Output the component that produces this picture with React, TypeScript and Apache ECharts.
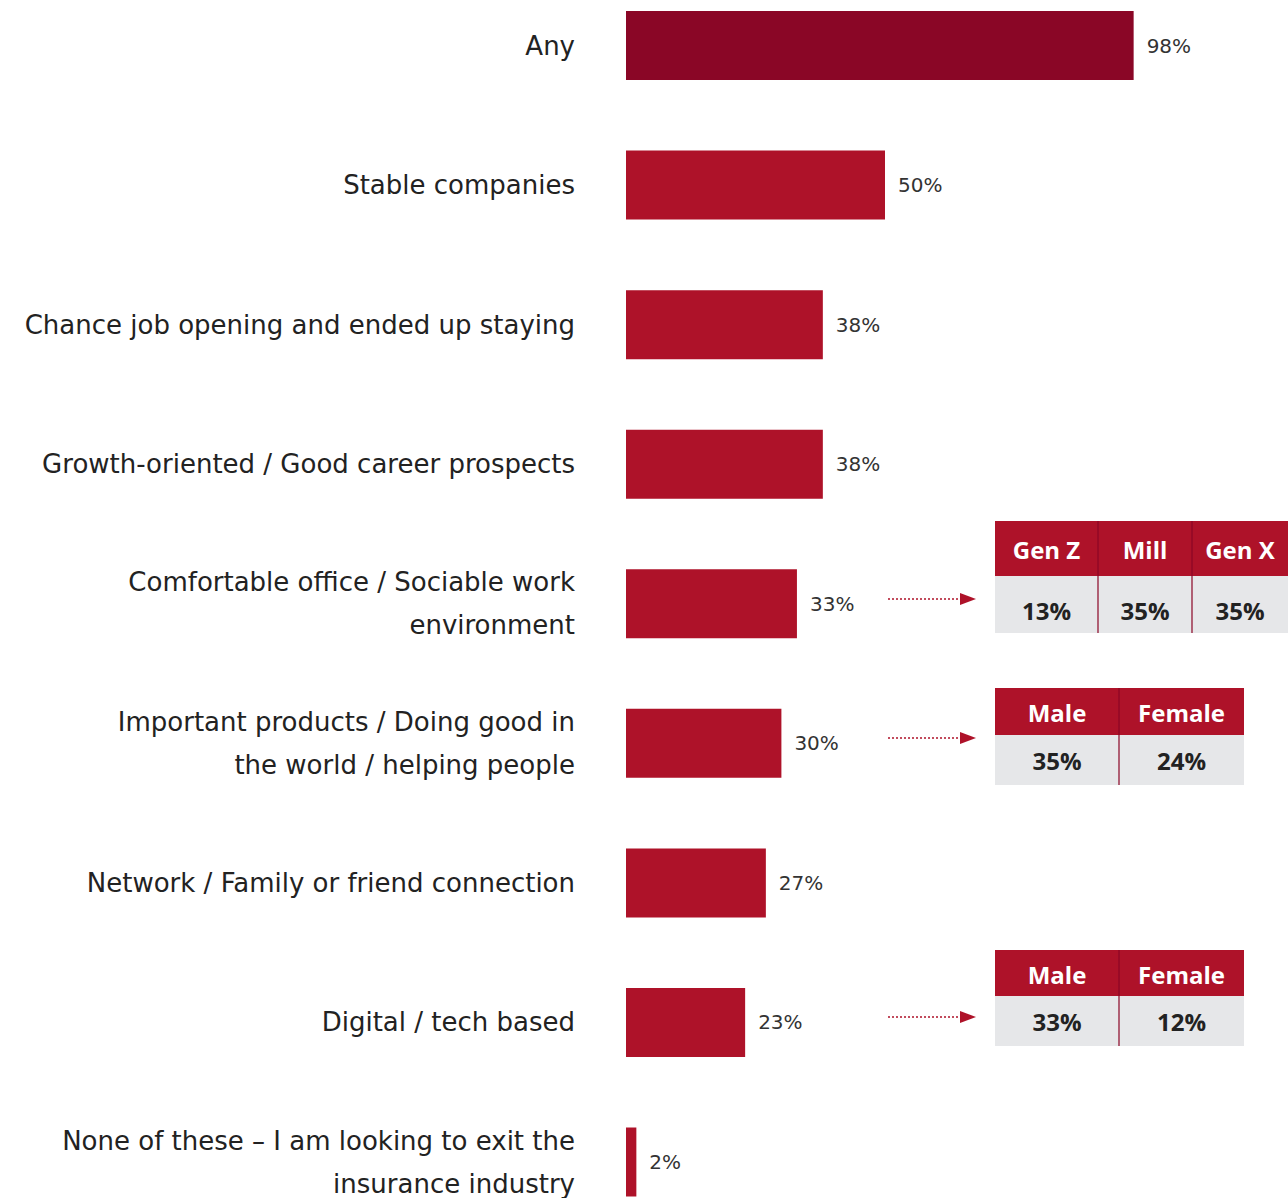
import React, { useEffect, useRef } from "react";
import * as echarts from "echarts";

// Survey answers and their shares (%)
const categories = [
  "Any",
  "Stable companies",
  "Chance job opening and ended up staying",
  "Growth-oriented / Good career prospects",
  "Comfortable office / Sociable work\nenvironment",
  "Important products / Doing good in\nthe world / helping people",
  "Network / Family or friend connection",
  "Digital / tech based",
  "None of these – I am looking to exit the\ninsurance industry",
];
const shares = [98, 50, 38, 38, 33, 30, 27, 23, 2];

// Breakdown tables
const generationHeaders = ["Gen Z", "Mill", "Gen X"];
const generationComfortable = [13, 35, 35];
const genderHeaders = ["Male", "Female"];
const genderImportant = [35, 24];
const genderDigital = [33, 12];

const DARK_RED = "#8A0626";
const RED = "#AE1229";
const GREY = "#E6E7E9";
const LABEL_FONT = "'DejaVu Sans', sans-serif";
const TABLE_FONT = "'Open Sans', sans-serif";

function table(
  x: number,
  y: number,
  widths: number[],
  headH: number,
  bodyH: number,
  headers: string[],
  values: number[],
  valueShift = 0
) {
  const children: any[] = [];
  const total = widths.reduce((a, b) => a + b, 0);
  children.push({ type: "rect", shape: { x, y, width: total, height: headH }, style: { fill: RED } });
  children.push({ type: "rect", shape: { x, y: y + headH, width: total, height: bodyH }, style: { fill: GREY } });
  let cx = x;
  widths.forEach((w, i) => {
    if (i > 0) {
      children.push({
        type: "line",
        shape: { x1: cx, y1: y, x2: cx, y2: y + headH + bodyH },
        style: { stroke: "#8A0626", lineWidth: 1.2 },
      });
    }
    children.push({
      type: "text",
      x: cx + w / 2,
      y: y + headH / 2 + 1,
      style: {
        text: headers[i],
        fill: "#fff",
        font: `bold 24px ${TABLE_FONT}`,
        align: "center",
        verticalAlign: "middle",
      },
    });
    children.push({
      type: "text",
      x: cx + w / 2,
      y: y + headH + bodyH / 2 + valueShift,
      style: {
        text: `${values[i]}%`,
        fill: "#222",
        font: `bold 24px ${TABLE_FONT}`,
        align: "center",
        verticalAlign: "middle",
      },
    });
    cx += w;
  });
  return { type: "group", children };
}

function arrow(y: number) {
  return {
    type: "group",
    children: [
      {
        type: "line",
        shape: { x1: 888, y1: y, x2: 962, y2: y },
        style: { stroke: RED, lineWidth: 1.5, lineDash: [2, 2] },
      },
      {
        type: "polygon",
        shape: { points: [[960, y - 6], [976, y], [960, y + 6]] },
        style: { fill: RED },
      },
    ],
  };
}

export default function App() {
  const ref = useRef<HTMLDivElement>(null);
  useEffect(() => {
    if (!ref.current) return;
    const chart = echarts.init(ref.current, null, { renderer: "svg" });
    chart.setOption({
      animation: false,
      grid: {
        left: 626,
        right: 144,
        top: 45.5,
        bottom: 36,
        containLabel: false,
        outerBoundsMode: "none",
      },
      xAxis: { type: "value", min: 0, max: 100, show: false },
      yAxis: {
        type: "category",
        data: categories,
        inverse: true,
        boundaryGap: false,
        axisLine: { show: false },
        axisTick: { show: false },
        splitLine: { show: false },
        axisLabel: {
          margin: 51,
          fontSize: 26,
          lineHeight: 43,
          color: "#222",
          fontFamily: LABEL_FONT,
        },
      },
      series: [
        {
          type: "bar",
          barWidth: 69,
          data: shares.map((v, i) => ({ value: v, itemStyle: { color: i === 0 ? DARK_RED : RED } })),
          label: {
            show: true,
            position: "right",
            distance: 13,
            fontSize: 20,
            color: "#333",
            fontFamily: LABEL_FONT,
            formatter: "{c}%",
          },
        },
      ],
      graphic: [
        table(995, 521, [103, 94, 96], 55, 57, generationHeaders, generationComfortable, 6),
        table(995, 688, [124, 125], 47, 50, genderHeaders, genderImportant),
        table(995, 950, [124, 125], 46, 50, genderHeaders, genderDigital),
        arrow(599),
        arrow(738),
        arrow(1017),
      ],
    });
    return () => chart.dispose();
  }, []);
  return (
    <div
      ref={ref}
      style={{ position: "absolute", left: 0, top: 0, width: 1288, height: 1198, background: "#fff" }}
    />
  );
}
